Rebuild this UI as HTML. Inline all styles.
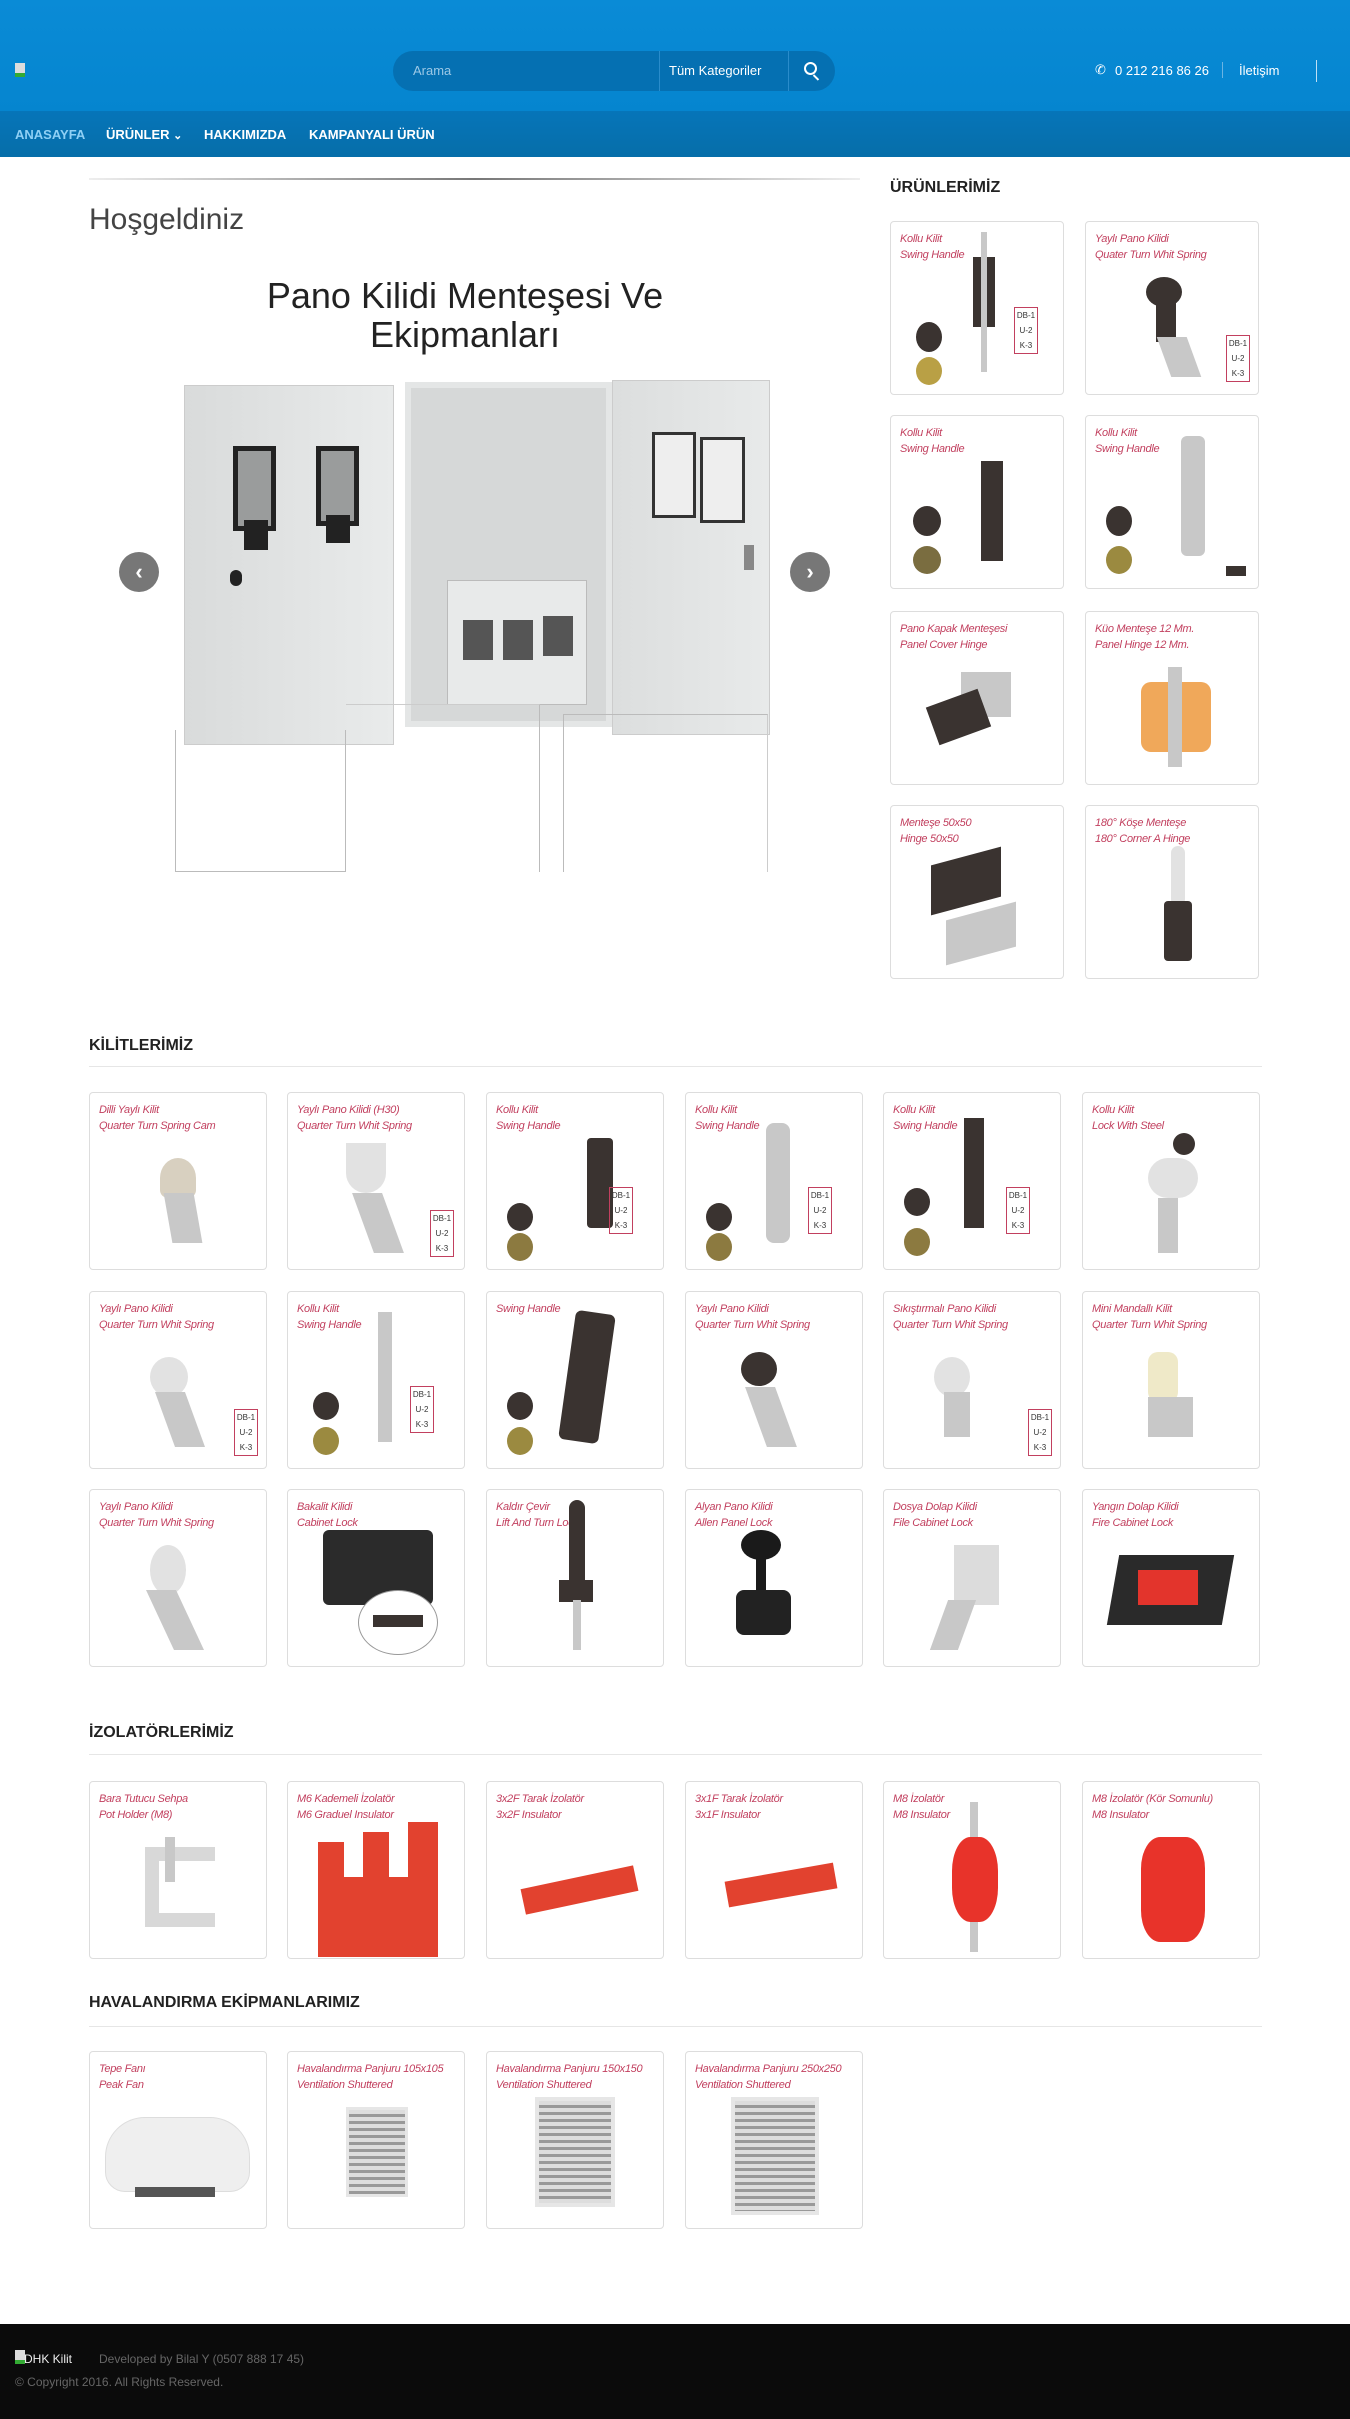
<!DOCTYPE html>
<html><head><meta charset="utf-8"><style>
*{margin:0;padding:0;box-sizing:border-box}
body{width:1350px;height:2419px;position:relative;background:#fff;font-family:"Liberation Sans",sans-serif;overflow:hidden}
.a{position:absolute}
.hdr{left:0;top:0;width:1350px;height:111px;background:linear-gradient(#0a8bd6,#0585cf)}
.nav{left:0;top:111px;width:1350px;height:46px;background:linear-gradient(#0675b9,#066ea9)}
.nav span{position:absolute;top:16px;color:#fff;font-weight:bold;font-size:13px}
.c{position:absolute;width:178px;height:178px;border:1px solid #ddd;border-radius:4px;background:#fff;overflow:hidden}
.r{width:174px;height:174px}
.t{position:absolute;left:9px;top:9px;color:#c2405f;font:italic 11px/16px "Liberation Sans",sans-serif;letter-spacing:-.3px}
.h{position:absolute;left:89px;font-weight:bold;font-size:16px;color:#222}
.ln{position:absolute;left:89px;width:1173px;height:1px;background:#e6e6e6}
.dk{background:#3a3330}.gy{background:#c8c8c8}.lg{background:#e2e2e2}.rd{background:#e3342c}
.tab{position:absolute;right:8px;bottom:12px;width:24px;border:1px solid #c2405f;font-size:8px;color:#333;text-align:center;line-height:15px}
</style></head><body>
<div class="a hdr"></div>
<div class="a" style="left:15px;top:63px;width:10px;height:14px;background:#ddd;border-bottom:4px solid #3a3"></div>
<div class="a" style="left:393px;top:51px;width:442px;height:40px;border-radius:20px;background:#0570b2"></div>
<div class="a" style="left:413px;top:63px;color:#9cc8e6;font-size:13px">Arama</div>
<div class="a" style="left:659px;top:51px;width:1px;height:40px;background:#2a8ccb"></div>
<div class="a" style="left:669px;top:63px;color:#fff;font-size:13px">Tüm Kategoriler</div>
<div class="a" style="left:788px;top:51px;width:1px;height:40px;background:#2a8ccb"></div>
<div class="a" style="left:804px;top:62px;width:13px;height:13px;border:2px solid #fff;border-radius:50%"></div>
<div class="a" style="left:815px;top:74px;width:2px;height:7px;background:#fff;transform:rotate(-45deg)"></div>
<div class="a" style="left:1095px;top:62px;color:#fff;font-size:13px">✆</div>
<div class="a" style="left:1115px;top:63px;color:#fff;font-size:13px">0 212 216 86 26</div>
<div class="a" style="left:1222px;top:62px;width:1px;height:16px;background:#6ab4e3"></div>
<div class="a" style="left:1239px;top:63px;color:#fff;font-size:13px">İletişim</div>
<div class="a" style="left:1316px;top:60px;width:1px;height:22px;background:#bfe0f5"></div>
<div class="a nav"><span style="left:15px;color:#8fd0f5">ANASAYFA</span><span style="left:106px">ÜRÜNLER <small>⌄</small></span><span style="left:204px">HAKKIMIZDA</span><span style="left:309px">KAMPANYALI ÜRÜN</span></div>

<div class="a" style="left:89px;top:178px;width:771px;height:2px;background:linear-gradient(90deg,#eee,#777,#eee)"></div>
<div class="a" style="left:89px;top:203px;font-size:30px;color:#444">Hoşgeldiniz</div>
<div class="a" style="left:200px;top:276px;width:530px;text-align:center;font-size:36px;line-height:39px;color:#222">Pano Kilidi Menteşesi Ve<br>Ekipmanları</div>
<!-- cabinet -->
<div class="a" style="left:184px;top:385px;width:210px;height:360px;background:linear-gradient(90deg,#d9dbdb,#e9ebeb);border:1px solid #ccc"></div>
<div class="a" style="left:233px;top:446px;width:43px;height:85px;background:#222;border:5px solid #222;box-shadow:inset 0 0 0 30px #9a9c9c"></div>
<div class="a" style="left:244px;top:520px;width:24px;height:30px;background:#222"></div>
<div class="a" style="left:316px;top:446px;width:43px;height:80px;background:#9a9c9c;border:5px solid #222"></div>
<div class="a" style="left:326px;top:515px;width:24px;height:28px;background:#222"></div>
<div class="a" style="left:230px;top:570px;width:12px;height:16px;border-radius:6px;background:#222"></div>
<div class="a" style="left:405px;top:382px;width:207px;height:345px;background:#d6d8d8;border:6px solid #e4e6e6"></div>
<div class="a" style="left:447px;top:580px;width:140px;height:125px;background:#e8eaea;border:1px solid #bbb"></div>
<div class="a" style="left:463px;top:620px;width:30px;height:40px;background:#555"></div>
<div class="a" style="left:503px;top:620px;width:30px;height:40px;background:#555"></div>
<div class="a" style="left:543px;top:616px;width:30px;height:40px;background:#555"></div>
<div class="a" style="left:612px;top:380px;width:158px;height:355px;background:linear-gradient(90deg,#dcdede,#e8eaea);border:1px solid #ccc"></div>
<div class="a" style="left:652px;top:432px;width:44px;height:86px;background:#eee;border:3px solid #333"></div>
<div class="a" style="left:700px;top:437px;width:45px;height:86px;background:#eee;border:3px solid #333"></div>
<div class="a" style="left:744px;top:545px;width:10px;height:25px;background:#888"></div>
<div class="a" style="left:119px;top:552px;width:40px;height:40px;border-radius:50%;background:#777;color:#fff;text-align:center;line-height:40px;font-size:22px;font-weight:bold">‹</div>
<div class="a" style="left:790px;top:552px;width:40px;height:40px;border-radius:50%;background:#777;color:#fff;text-align:center;line-height:40px;font-size:22px;font-weight:bold">›</div>
<div class="a" style="left:175px;top:730px;width:171px;height:142px;border-left:1px solid #bbb;border-bottom:1px solid #bbb;border-right:1px solid #bbb"></div>
<div class="a" style="left:346px;top:704px;width:194px;height:168px;border-right:1px solid #bbb;border-top:1px solid #ccc"></div>
<div class="a" style="left:563px;top:714px;width:205px;height:158px;border:1px solid #bbb;border-bottom:none;border-right:1px solid #ccc;background:transparent"></div>

<div class="a" style="left:890px;top:179px;font-weight:bold;font-size:16px;color:#222">ÜRÜNLERİMİZ</div>
<!-- right column -->
<div class="c r" style="left:890px;top:221px"><div class="t">Kollu Kilit<br>Swing Handle</div><div class="a dk" style="left:82px;top:35px;width:22px;height:70px"></div><div class="a gy" style="left:90px;top:10px;width:6px;height:140px"></div><div class="a dk" style="left:25px;top:100px;width:26px;height:30px;border-radius:50%"></div><div class="a" style="left:25px;top:135px;width:26px;height:28px;border-radius:50%;background:#b9a045"></div><div class="tab" style="right:25px;bottom:40px">DB-1<br>U-2<br>K-3</div></div>
<div class="c r" style="left:1085px;top:221px"><div class="t">Yaylı Pano Kilidi<br>Quater Turn Whit Spring</div><div class="a dk" style="left:60px;top:55px;width:36px;height:30px;border-radius:50%"></div><div class="a dk" style="left:70px;top:80px;width:20px;height:40px"></div><div class="a gy" style="left:78px;top:115px;width:30px;height:40px;transform:skewX(20deg)"></div><div class="tab">DB-1<br>U-2<br>K-3</div></div>
<div class="c r" style="left:890px;top:415px"><div class="t">Kollu Kilit<br>Swing Handle</div><div class="a dk" style="left:90px;top:45px;width:22px;height:100px"></div><div class="a dk" style="left:22px;top:90px;width:28px;height:30px;border-radius:50%"></div><div class="a" style="left:22px;top:130px;width:28px;height:28px;border-radius:50%;background:#7a6d40"></div></div>
<div class="c r" style="left:1085px;top:415px"><div class="t">Kollu Kilit<br>Swing Handle</div><div class="a gy" style="left:95px;top:20px;width:24px;height:120px;border-radius:6px"></div><div class="a dk" style="left:20px;top:90px;width:26px;height:30px;border-radius:50%"></div><div class="a" style="left:20px;top:130px;width:26px;height:28px;border-radius:50%;background:#9b8a40"></div><div class="a dk" style="left:140px;top:150px;width:20px;height:10px"></div></div>
<div class="c r" style="left:890px;top:611px"><div class="t">Pano Kapak Menteşesi<br>Panel Cover Hinge</div><div class="a gy" style="left:70px;top:60px;width:50px;height:45px"></div><div class="a dk" style="left:40px;top:85px;width:55px;height:40px;transform:rotate(-20deg)"></div></div>
<div class="c r" style="left:1085px;top:611px"><div class="t">Küo Menteşe 12 Mm.<br>Panel Hinge 12 Mm.</div><div class="a" style="left:55px;top:70px;width:70px;height:70px;background:#f0a85a;border-radius:10px"></div><div class="a gy" style="left:82px;top:55px;width:14px;height:100px"></div></div>
<div class="c r" style="left:890px;top:805px"><div class="t">Menteşe 50x50<br>Hinge 50x50</div><div class="a dk" style="left:40px;top:50px;width:70px;height:50px;transform:skewY(-15deg)"></div><div class="a gy" style="left:55px;top:105px;width:70px;height:45px;transform:skewY(-15deg)"></div></div>
<div class="c r" style="left:1085px;top:805px"><div class="t">180° Köşe Menteşe<br>180° Corner A Hinge</div><div class="a lg" style="left:85px;top:40px;width:14px;height:60px;border-radius:7px"></div><div class="a dk" style="left:78px;top:95px;width:28px;height:60px;border-radius:4px"></div></div>

<div class="h" style="top:1037px">KİLİTLERİMİZ</div><div class="ln" style="top:1066px"></div>
<!-- row 1 -->
<div class="c" style="left:89px;top:1092px"><div class="t">Dilli Yaylı Kilit<br>Quarter Turn Spring Cam</div><div class="a lg" style="left:70px;top:65px;width:36px;height:40px;border-radius:50% 50% 8px 8px;background:#d8d0c0"></div><div class="a gy" style="left:78px;top:100px;width:30px;height:50px;transform:skewX(10deg)"></div></div>
<div class="c" style="left:287px;top:1092px"><div class="t">Yaylı Pano Kilidi (H30)<br>Quarter Turn Whit Spring</div><div class="a lg" style="left:58px;top:50px;width:40px;height:50px;border-radius:0 0 20px 20px"></div><div class="a gy" style="left:75px;top:100px;width:30px;height:60px;transform:skewX(20deg)"></div><div class="tab" style="right:10px">DB-1<br>U-2<br>K-3</div></div>
<div class="c" style="left:486px;top:1092px"><div class="t">Kollu Kilit<br>Swing Handle</div><div class="a dk" style="left:100px;top:45px;width:26px;height:90px;border-radius:4px"></div><div class="a dk" style="left:20px;top:110px;width:26px;height:28px;border-radius:50%"></div><div class="a" style="left:20px;top:140px;width:26px;height:28px;border-radius:50%;background:#8c7a40"></div><div class="tab" style="right:30px;bottom:35px">DB-1<br>U-2<br>K-3</div></div>
<div class="c" style="left:685px;top:1092px"><div class="t">Kollu Kilit<br>Swing Handle</div><div class="a gy" style="left:80px;top:30px;width:24px;height:120px;border-radius:8px"></div><div class="a dk" style="left:20px;top:110px;width:26px;height:28px;border-radius:50%"></div><div class="a" style="left:20px;top:140px;width:26px;height:28px;border-radius:50%;background:#8c7a40"></div><div class="tab" style="right:30px;bottom:35px">DB-1<br>U-2<br>K-3</div></div>
<div class="c" style="left:883px;top:1092px"><div class="t">Kollu Kilit<br>Swing Handle</div><div class="a dk" style="left:80px;top:25px;width:20px;height:110px"></div><div class="a dk" style="left:20px;top:95px;width:26px;height:28px;border-radius:50%"></div><div class="a" style="left:20px;top:135px;width:26px;height:28px;border-radius:50%;background:#8c7a40"></div><div class="tab" style="right:30px;bottom:35px">DB-1<br>U-2<br>K-3</div></div>
<div class="c" style="left:1082px;top:1092px"><div class="t">Kollu Kilit<br>Lock With Steel</div><div class="a dk" style="left:90px;top:40px;width:22px;height:22px;border-radius:50%"></div><div class="a lg" style="left:65px;top:65px;width:50px;height:40px;border-radius:20px"></div><div class="a gy" style="left:75px;top:105px;width:20px;height:55px"></div></div>
<!-- row 2 -->
<div class="c" style="left:89px;top:1291px"><div class="t">Yaylı Pano Kilidi<br>Quarter Turn Whit Spring</div><div class="a lg" style="left:60px;top:65px;width:38px;height:40px;border-radius:50%"></div><div class="a gy" style="left:75px;top:100px;width:30px;height:55px;transform:skewX(20deg)"></div><div class="tab" style="right:8px">DB-1<br>U-2<br>K-3</div></div>
<div class="c" style="left:287px;top:1291px"><div class="t">Kollu Kilit<br>Swing Handle</div><div class="a gy" style="left:90px;top:20px;width:14px;height:130px"></div><div class="a dk" style="left:25px;top:100px;width:26px;height:28px;border-radius:50%"></div><div class="a" style="left:25px;top:135px;width:26px;height:28px;border-radius:50%;background:#9b8a40"></div><div class="tab" style="right:30px;bottom:35px">DB-1<br>U-2<br>K-3</div></div>
<div class="c" style="left:486px;top:1291px"><div class="t">Swing Handle</div><div class="a dk" style="left:80px;top:20px;width:40px;height:130px;border-radius:6px;transform:rotate(8deg)"></div><div class="a dk" style="left:20px;top:100px;width:26px;height:28px;border-radius:50%"></div><div class="a" style="left:20px;top:135px;width:26px;height:28px;border-radius:50%;background:#9b8a40"></div></div>
<div class="c" style="left:685px;top:1291px"><div class="t">Yaylı Pano Kilidi<br>Quarter Turn Whit Spring</div><div class="a dk" style="left:55px;top:60px;width:36px;height:34px;border-radius:50%"></div><div class="a gy" style="left:70px;top:95px;width:30px;height:60px;transform:skewX(20deg)"></div></div>
<div class="c" style="left:883px;top:1291px"><div class="t">Sıkıştırmalı Pano Kilidi<br>Quarter Turn Whit Spring</div><div class="a lg" style="left:50px;top:65px;width:36px;height:40px;border-radius:50%"></div><div class="a gy" style="left:60px;top:100px;width:26px;height:45px"></div><div class="tab" style="right:8px">DB-1<br>U-2<br>K-3</div></div>
<div class="c" style="left:1082px;top:1291px"><div class="t">Mini Mandallı Kilit<br>Quarter Turn Whit Spring</div><div class="a" style="left:65px;top:60px;width:30px;height:50px;background:#efe9c8;border-radius:10px"></div><div class="a gy" style="left:65px;top:105px;width:45px;height:40px"></div></div>
<!-- row 3 -->
<div class="c" style="left:89px;top:1489px"><div class="t">Yaylı Pano Kilidi<br>Quarter Turn Whit Spring</div><div class="a lg" style="left:60px;top:55px;width:36px;height:50px;border-radius:50%"></div><div class="a gy" style="left:70px;top:100px;width:30px;height:60px;transform:skewX(25deg)"></div></div>
<div class="c" style="left:287px;top:1489px"><div class="t">Bakalit Kilidi<br>Cabinet Lock</div><div class="a dk" style="left:35px;top:40px;width:110px;height:75px;border-radius:6px;background:#2b2b2b"></div><div class="a" style="left:70px;top:100px;width:80px;height:65px;border:1px solid #999;border-radius:50%;background:#fff"></div><div class="a dk" style="left:85px;top:125px;width:50px;height:12px"></div></div>
<div class="c" style="left:486px;top:1489px"><div class="t">Kaldır Çevir<br>Lift And Turn Lock</div><div class="a dk" style="left:82px;top:10px;width:16px;height:100px;border-radius:8px"></div><div class="a dk" style="left:72px;top:90px;width:34px;height:22px"></div><div class="a gy" style="left:86px;top:110px;width:8px;height:50px"></div></div>
<div class="c" style="left:685px;top:1489px"><div class="t">Alyan Pano Kilidi<br>Allen Panel Lock</div><div class="a" style="left:55px;top:40px;width:40px;height:30px;border-radius:50%;background:#1a1a1a"></div><div class="a" style="left:70px;top:65px;width:10px;height:40px;background:#1a1a1a"></div><div class="a dk" style="left:50px;top:100px;width:55px;height:45px;border-radius:8px;background:#222"></div></div>
<div class="c" style="left:883px;top:1489px"><div class="t">Dosya Dolap Kilidi<br>File Cabinet Lock</div><div class="a gy" style="left:70px;top:55px;width:45px;height:60px;background:#dcdcdc"></div><div class="a gy" style="left:55px;top:110px;width:28px;height:50px;transform:skewX(-20deg)"></div></div>
<div class="c" style="left:1082px;top:1489px"><div class="t">Yangın Dolap Kilidi<br>Fire Cabinet Lock</div><div class="a" style="left:30px;top:65px;width:115px;height:70px;background:#2a2a2a;transform:skewX(-10deg)"></div><div class="a rd" style="left:55px;top:80px;width:60px;height:35px"></div></div>

<div class="h" style="top:1724px">İZOLATÖRLERİMİZ</div><div class="ln" style="top:1754px"></div>
<div class="c" style="left:89px;top:1781px"><div class="t">Bara Tutucu Sehpa<br>Pot Holder (M8)</div><div class="a lg" style="left:55px;top:65px;width:70px;height:80px;border:14px solid #d8d8d8;border-right:none;background:transparent"></div><div class="a gy" style="left:75px;top:55px;width:10px;height:45px"></div></div>
<div class="c" style="left:287px;top:1781px"><div class="t">M6 Kademeli İzolatör<br>M6 Graduel Insulator</div><div class="a rd" style="left:30px;top:95px;width:120px;height:80px;background:#e2422f"></div><div class="a rd" style="left:30px;top:60px;width:26px;height:40px;background:#e2422f"></div><div class="a rd" style="left:75px;top:50px;width:26px;height:50px;background:#e2422f"></div><div class="a rd" style="left:120px;top:40px;width:30px;height:60px;background:#e2422f"></div></div>
<div class="c" style="left:486px;top:1781px"><div class="t">3x2F Tarak İzolatör<br>3x2F Insulator</div><div class="a rd" style="left:35px;top:95px;width:115px;height:26px;background:#e2422f;transform:rotate(-12deg)"></div></div>
<div class="c" style="left:685px;top:1781px"><div class="t">3x1F Tarak İzolatör<br>3x1F Insulator</div><div class="a rd" style="left:40px;top:90px;width:110px;height:26px;background:#e2422f;transform:rotate(-10deg)"></div></div>
<div class="c" style="left:883px;top:1781px"><div class="t">M8 İzolatör<br>M8 Insulator</div><div class="a gy" style="left:86px;top:20px;width:8px;height:150px"></div><div class="a rd" style="left:68px;top:55px;width:46px;height:85px;border-radius:40%;background:#e8332a"></div></div>
<div class="c" style="left:1082px;top:1781px"><div class="t">M8 İzolatör (Kör Somunlu)<br>M8 Insulator</div><div class="a rd" style="left:58px;top:55px;width:64px;height:105px;border-radius:30%;background:#e8332a"></div></div>

<div class="h" style="top:1994px">HAVALANDIRMA EKİPMANLARIMIZ</div><div class="ln" style="top:2026px"></div>
<div class="c" style="left:89px;top:2051px"><div class="t">Tepe Fanı<br>Peak Fan</div><div class="a" style="left:15px;top:65px;width:145px;height:75px;border-radius:40px 40px 20px 20px;background:#efefef;border:1px solid #ddd"></div><div class="a" style="left:45px;top:135px;width:80px;height:10px;background:#555"></div></div>
<div class="c" style="left:287px;top:2051px"><div class="t">Havalandırma Panjuru 105x105<br>Ventilation Shuttered</div><div class="a" style="left:58px;top:55px;width:62px;height:90px;background:repeating-linear-gradient(#ddd 0 4px,#999 4px 7px);border:3px solid #e6e6e6"></div></div>
<div class="c" style="left:486px;top:2051px"><div class="t">Havalandırma Panjuru 150x150<br>Ventilation Shuttered</div><div class="a" style="left:48px;top:45px;width:80px;height:110px;background:repeating-linear-gradient(#ddd 0 4px,#999 4px 7px);border:4px solid #e6e6e6"></div></div>
<div class="c" style="left:685px;top:2051px"><div class="t">Havalandırma Panjuru 250x250<br>Ventilation Shuttered</div><div class="a" style="left:45px;top:45px;width:88px;height:118px;background:repeating-linear-gradient(#ddd 0 4px,#999 4px 7px);border:4px solid #e6e6e6"></div></div>

<div class="a" style="left:0;top:2324px;width:1350px;height:95px;background:#0b0b0b"></div>
<div class="a" style="left:15px;top:2350px;width:10px;height:14px;background:#ddd;border-bottom:4px solid #3a3"></div>
<div class="a" style="left:24px;top:2352px;color:#eee;font-size:12px">DHK Kilit</div>
<div class="a" style="left:99px;top:2352px;color:#666;font-size:12px">Developed by Bilal Y (0507 888 17 45)</div>
<div class="a" style="left:15px;top:2375px;color:#666;font-size:12px">© Copyright 2016. All Rights Reserved.</div>
</body></html>
